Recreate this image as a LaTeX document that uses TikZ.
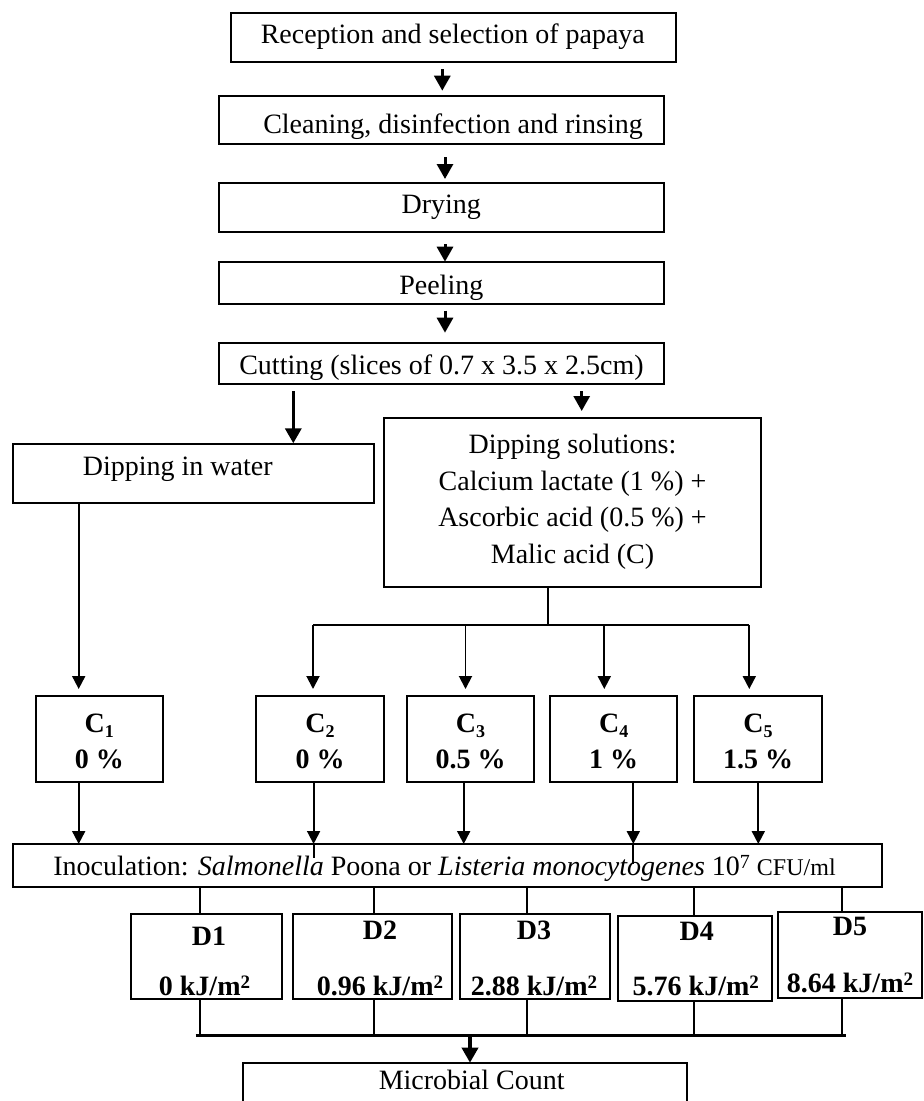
\documentclass[tikz,border=0pt]{standalone}
\usepackage{fontspec}
\setmainfont{Liberation Serif}
\usetikzlibrary{arrows.meta}
\newcommand{\subn}[1]{\raisebox{-5pt}{\fontsize{18}{18}\selectfont #1}}
\newcommand{\sqm}{\raisebox{6.5pt}{\fontsize{19}{19}\selectfont 2}}
\begin{document}
\begin{tikzpicture}[x=1pt,y=-1pt,
  box/.style={draw=black, line width=1.9pt, inner sep=0pt, outer sep=0pt, anchor=north west},
  txt/.style={inner sep=0pt, outer sep=0pt, anchor=base, font=\fontsize{28}{34}\selectfont},
  btxt/.style={txt, font=\fontsize{28}{34}\selectfont\bfseries},
  ln/.style={line width=1.9pt},
  arr/.style={ln, -{Triangle[width=13pt,length=13pt]}},
  tarr/.style={line width=3pt, -{Triangle[width=16pt,length=15pt]}},
  barr/.style={line width=3.5pt, -{Triangle[width=16pt,length=15pt]}},
]
\useasboundingbox (0,0) rectangle (924,1101);
\clip (0,0) rectangle (924,1101);

% ---- boxes ----
\node[box, minimum width=444.7pt, minimum height=49pt] (b1) at (231,12.7) {};
\node[box, minimum width=445pt, minimum height=48.6pt] (b2) at (219,95.7) {};
\node[box, minimum width=445pt, minimum height=49pt] (b3) at (219,182.7) {};
\node[box, minimum width=445pt, minimum height=42.3pt] (b4) at (219,261.7) {};
\node[box, minimum width=444.7pt, minimum height=41.6pt] (b5) at (219.3,342.7) {};
\node[box, minimum width=361pt, minimum height=58.4pt] (water) at (13,444.3) {};
\node[box, minimum width=377pt, minimum height=169.6pt] (sol) at (383.7,417.7) {};
\node[box, minimum width=127.3pt, minimum height=86.3pt] (c1) at (35.7,696) {};
\node[box, minimum width=127.4pt, minimum height=86.3pt] (c2) at (256.3,696) {};
\node[box, minimum width=126.5pt, minimum height=86.3pt] (c3) at (407.3,696) {};
\node[box, minimum width=127.3pt, minimum height=86.3pt] (c4) at (550,696) {};
\node[box, minimum width=127.4pt, minimum height=86.3pt] (c5) at (694.3,696) {};
\node[box, minimum width=868.4pt, minimum height=42.7pt] (inoc) at (13.3,844) {};
\node[box, minimum width=151.3pt, minimum height=85.6pt] (d1) at (131,913.7) {};
\node[box, minimum width=159pt, minimum height=85.6pt] (d2) at (292.7,913.7) {};
\node[box, minimum width=150pt, minimum height=85.6pt] (d3) at (460,913.7) {};
\node[box, minimum width=154pt, minimum height=85.3pt] (d4) at (617.7,915.7) {};
\node[box, minimum width=143.4pt, minimum height=85.4pt] (d5) at (778.3,912.3) {};
\node[box, minimum width=444pt, minimum height=60pt] (micro) at (243.3,1062.7) {};

% ---- texts ----
\node[txt] (t1) at (452.8,43.3) {Reception and selection of papaya};
\node[txt] (t2) at (453,133.3) {Cleaning, disinfection and rinsing};
\node[txt] (t3) at (441.3,213.3) {Drying};
\node[txt] (t4) at (441.3,294.3) {Peeling};
\node[txt] (t5) at (441.5,374.3) {Cutting (slices of 0.7 x 3.5 x 2.5cm)};
\node[txt] (tw) at (177.8,475) {Dipping in water};
\node[txt] (ts1) at (572.5,453.3) {Dipping solutions:};
\node[txt] (ts2) at (572.5,490) {Calcium lactate (1 \%) +};
\node[txt] (ts3) at (572.5,526.7) {Ascorbic acid (0.5 \%) +};
\node[txt] (ts4) at (572.5,563.3) {Malic acid (C)};

\node[btxt] (tc1a) at (c1.north |- 0,732.3) {C\subn{1}};
\node[btxt] (tc1b) at (c1.north |- 0,768.3) {0 \%};
\node[btxt] (tc2a) at (c2.north |- 0,732.3) {C\subn{2}};
\node[btxt] (tc2b) at (c2.north |- 0,768.3) {0 \%};
\node[btxt] (tc3a) at (c3.north |- 0,732.3) {C\subn{3}};
\node[btxt] (tc3b) at (c3.north |- 0,768.3) {0.5 \%};
\node[btxt] (tc4a) at (c4.north |- 0,732.3) {C\subn{4}};
\node[btxt] (tc4b) at (c4.north |- 0,768.3) {1 \%};
\node[btxt] (tc5a) at (c5.north |- 0,732.3) {C\subn{5}};
\node[btxt] (tc5b) at (c5.north |- 0,768.3) {1.5 \%};

\node[txt, anchor=base west] (ti) at (53.3,875.7) {Inoculation: \textit{Salmonella} Poona or \textit{Listeria monocytogenes} 10\raisebox{7pt}{\fontsize{20}{20}\selectfont 7} {\fontsize{24}{24}\selectfont CFU/ml}};

\node[btxt] (td1a) at (209,945) {D1};
\node[btxt] (td1b) at (204.5,995) {0 kJ/m\sqm};
\node[btxt] (td2a) at (380,939) {D2};
\node[btxt] (td2b) at (380,995) {0.96 kJ/m\sqm};
\node[btxt] (td3a) at (534,939) {D3};
\node[btxt] (td3b) at (534,995) {2.88 kJ/m\sqm};
\node[btxt] (td4a) at (696.7,940) {D4};
\node[btxt] (td4b) at (695.8,995) {5.76 kJ/m\sqm};
\node[btxt] (td5a) at (850,935.7) {D5};
\node[btxt] (td5b) at (850,992.3) {8.64 kJ/m\sqm};

\node[txt] (tm) at (471.7,1089.3) {Microbial Count};

% ---- junction coordinates ----
\coordinate (j1) at (548,625);
\coordinate (busL) at (313,625);
\coordinate (k3) at (465.5,625);
\coordinate (k4) at (604.3,625);
\coordinate (busR) at (749.3,625);
\coordinate (m1) at (200.3,1035.5);
\coordinate (m2) at (374.3,1035.5);
\coordinate (m3) at (526.7,1035.5);
\coordinate (m4) at (694.3,1035.5);
\coordinate (m5) at (841.7,1035.5);
\coordinate (mL) at (195.7,1035.5);
\coordinate (mR) at (845.7,1035.5);
\coordinate (m0) at (470,1035.5);

% ---- connectors, top chain ----
\draw[tarr, shorten <=7.3pt, shorten >=5pt] (b1.south -| 442.3,0) -- (b2.north -| 442.3,0);
\draw[tarr, shorten <=12.7pt, shorten >=3.7pt] (b2.south -| 445,0) -- (b3.north -| 445,0);
\draw[tarr, shorten <=12.3pt] (b3.south -| 445,0) -- (b4.north -| 445,0);
\draw[tarr, shorten <=6.7pt, shorten >=10pt] (b4.south -| 445,0) -- (b5.north -| 445,0);
\draw[barr, shorten <=6.7pt, shorten >=1pt] (b5.south -| 293.3,0) -- (water.north -| 293.3,0);
\draw[tarr, shorten <=6.7pt, shorten >=6.7pt] (b5.south -| 581.7,0) -- (sol.north -| 581.7,0);

% ---- dipping solutions branches ----
\draw[ln] (sol.south -| j1) -- (j1);
\draw[ln] (busL) -- (busR);
\draw[arr, shorten >=7pt] (busL) -- (c2.north -| busL);
\draw[arr, shorten >=7pt] (k3) -- (c3.north -| k3);
\draw[arr, shorten >=7pt] (k4) -- (c4.north -| k4);
\draw[arr, shorten >=7pt] (busR) -- (c5.north -| busR);
\draw[arr, shorten >=7pt] (water.south -| 78.7,0) -- (c1.north -| 78.7,0);

% ---- C boxes to inoculation ----
\draw[arr] (c1.south -| 78.7,0) -- (inoc.north -| 78.7,0);
\draw[arr] (c2.south -| 313.6,0) -- (inoc.north -| 313.6,0);
\draw[arr] (c3.south -| 463.7,0) -- (inoc.north -| 463.7,0);
\draw[arr] (c4.south -| 633.3,0) -- (inoc.north -| 633.3,0);
\draw[arr] (c5.south -| 758.3,0) -- (inoc.north -| 758.3,0);
\draw[ln] (inoc.north -| 313.6,0) -- ++(0,14.3);
\draw[ln] (inoc.north -| 633.3,0) -- ++(0,20);

% ---- inoculation to D boxes ----
\draw[ln] (inoc.south -| m1) -- (d1.north -| m1);
\draw[ln] (inoc.south -| m2) -- (d2.north -| m2);
\draw[ln] (inoc.south -| m3) -- (d3.north -| m3);
\draw[ln] (inoc.south -| m4) -- (d4.north -| m4);
\draw[ln] (inoc.south -| m5) -- (d5.north -| m5);

% ---- D boxes to microbial count ----
\draw[ln] (d1.south -| m1) -- (m1);
\draw[ln] (d2.south -| m2) -- (m2);
\draw[ln] (d3.south -| m3) -- (m3);
\draw[ln] (d4.south -| m4) -- (m4);
\draw[ln] (d5.south -| m5) -- (m5);
\draw[line width=2.4pt] (mL) -- (mR);
\draw[tarr, line width=3.5pt] (m0) -- (micro.north -| m0);
\end{tikzpicture}
\end{document}
